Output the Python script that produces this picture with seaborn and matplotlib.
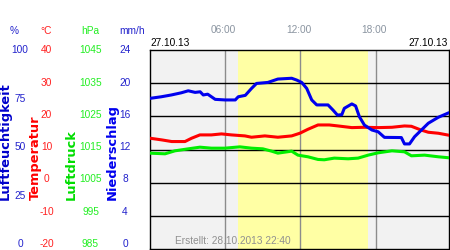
import numpy as np
import pandas as pd
import matplotlib
matplotlib.use("Agg")
import matplotlib.pyplot as plt
import seaborn as sns

# ---------------- data ----------------
hum_hours = [0.0, 0.9, 1.7, 2.5, 3.05, 3.3, 3.6, 4.0, 4.25, 4.6, 5.2, 6.0, 6.8, 7.04, 7.6, 8.1, 8.5,
             9.4, 10.2, 11.3, 11.7, 12.1, 12.5, 12.9, 13.3, 14.2, 14.6, 14.95, 15.3, 15.5, 16.1,
             16.4, 16.7, 17.1, 17.7, 18.2, 18.7, 20.05, 20.15, 20.3, 20.7, 21.1, 21.65, 22.2, 23.0, 23.85]
hum_values = [75.7, 76.5, 77.4, 78.5, 79.5, np.nan, 78.7, 79.0, 77.4, 77.8, 75.2, 74.9, 74.9, 76.5,
              77.2, 80.7, 83.2, 83.7, 85.4, 85.8, 84.9, 83.7, 80.7, 74.9, 72.4, 72.4, 69.8, 67.3,
              67.5, 70.7, 72.9, 71.9, 66.5, 62.3, 59.8, 58.9, 56.1, 56.0, np.nan, 52.8, 52.8, 56.4,
              59.8, 63.2, 66.2, 68.5]

temp_hours = [0.0, 0.93, 1.73, 2.79, 3.32, 3.98, 4.9, 5.7, 6.5, 7.57, 8.1, 9.16, 10.2, 11.3, 11.95,
              12.6, 13.4, 14.3, 15.0, 16.1, 17.1, 18.2, 19.3, 20.3, 20.85, 21.6, 22.2, 23.0, 23.85]
temp_values = [13.4, 12.9, 12.4, 12.4, 13.4, 14.4, 14.4, 14.7, 14.4, 14.1, 13.7, 14.1, 13.7, 14.1,
               14.9, 16.1, 17.4, 17.4, 17.1, 16.6, 16.7, 16.6, 16.7, 17.1, 17.0, 15.9, 15.2, 14.9, 14.3]

pres_hours = [0.0, 1.2, 1.99, 3.05, 3.98, 4.9, 5.97, 7.17, 8.1, 9.0, 9.7, 10.2, 11.3, 11.8, 12.6,
              13.4, 13.9, 14.7, 15.8, 16.6, 17.4, 18.2, 19.3, 20.3, 20.85, 21.9, 23.0, 23.85]
pres_values = [1013.9, 1013.7, 1014.6, 1015.2, 1015.7, 1015.4, 1015.4, 1015.8, 1015.4, 1015.2,
               1014.5, 1013.9, 1014.5, 1013.3, 1012.8, 1012.0, 1011.9, 1012.4, 1012.2, 1012.4,
               1013.3, 1014.0, 1014.6, 1014.3, 1013.1, 1013.3, 1012.8, 1012.5]

hum_ticks = ["100", "75", "50", "25", "0"]
temp_ticks = ["40", "30", "20", "10", "0", "-10", "-20"]
pres_ticks = ["1045", "1035", "1025", "1015", "1005", "995", "985"]
prec_ticks = ["24", "20", "16", "12", "8", "4", "0"]
time_ticks = ["06:00", "12:00", "18:00"]
time_hours = [6, 12, 18]
daylight = (7.04, 17.35)
date_label = "27.10.13"
created = "Erstellt: 28.10.2013 22:40"

# ---------------- figure ----------------
sns.set_style("white")
plt.rcParams['font.family'] = ['Liberation Sans', 'DejaVu Sans']

W, H = 450, 250
XMAX = 23.85
fig = plt.figure(figsize=(W / 100, H / 100), dpi=100)
L, R, T, B = 150, 449, 50, 249
ax = fig.add_axes([L / W, 1 - B / H, (R - L) / W, (B - T) / H])
ax.set_facecolor("#f2f2f2")
ax.set_xlim(0, XMAX)
ax.set_ylim(0, 100)
ax.axvspan(*daylight, color="#ffffa4", lw=0, zorder=0)
for hh in time_hours:
    ax.axvline(hh, color="#8c8c8c", lw=1.0, zorder=1)
for v in np.linspace(0, 100, 7)[1:-1]:
    ax.axhline(v, color="black", lw=1.0, zorder=1)
for s in ax.spines.values():
    s.set_color("black")
    s.set_linewidth(1.0)
ax.set_xticks([]); ax.set_yticks([])


def twin(lo, hi):
    a = ax.twinx()
    a.set_ylim(lo, hi)
    a.set_xlim(0, XMAX)
    a.patch.set_visible(False)
    for s in a.spines.values():
        s.set_visible(False)
    return a


ax_p = twin(985, 1045)
ax_t = twin(-20, 40)
ax_h = twin(0, 100)

lw = 2.2
sns.lineplot(x=pres_hours, y=pres_values, ax=ax_p, color="#00ee00", lw=lw)
sns.lineplot(x=temp_hours, y=temp_values, ax=ax_t, color="#ff0000", lw=lw)
sns.lineplot(x=hum_hours, y=hum_values, ax=ax_h, color="#0000ee", lw=lw)
for a in (ax_t, ax_p, ax_h):
    a.set_xlabel(""); a.set_ylabel("")
    a.set_yticks([]); a.set_xticks([])
    a.set_xlim(0, XMAX)

# ---------------- text ----------------
def ft(x, y, s, **kw):
    fig.text(x / W, 1 - y / H, s, **kw)

fs = 7.3
ft(14, 30.5, "%", color="#2222cc", ha="center", va="center", fontsize=fs)
ft(46.5, 30.5, "°C", color="#ff2020", ha="center", va="center", fontsize=fs)
ft(90.5, 30.5, "hPa", color="#22ee22", ha="center", va="center", fontsize=fs)
ft(132.5, 30.5, "mm/h", color="#2222cc", ha="center", va="center", fontsize=fs)

step = 32.3
for i, s in enumerate(temp_ticks):
    ft(46.5, 50.3 + i * step, s, color="#ff2020", ha="center", va="center", fontsize=fs)
for i, s in enumerate(pres_ticks):
    ft(90.5, 50.3 + i * step, s, color="#22ee22", ha="center", va="center", fontsize=fs)
for i, s in enumerate(prec_ticks):
    ft(125, 50.3 + i * step, s, color="#2222cc", ha="center", va="center", fontsize=fs)
for i, s in enumerate(hum_ticks):
    ft(20, 50.3 + i * step * 1.5, s, color="#2222cc", ha="center", va="center", fontsize=fs)

rfs = 9.4
ft(5.5, 200, "Luftfeuchtigkeit", color="#0000cc", rotation=90, ha="center", va="bottom",
   fontsize=rfs, fontweight="bold", family="DejaVu Sans")
ft(35, 200, "Temperatur", color="#ff0000", rotation=90, ha="center", va="bottom",
   fontsize=rfs, fontweight="bold", family="DejaVu Sans")
ft(71, 200, "Luftdruck", color="#00dd00", rotation=90, ha="center", va="bottom",
   fontsize=rfs, fontweight="bold", family="DejaVu Sans")
ft(112.5, 200, "Niederschlag", color="#0000ee", rotation=90, ha="center", va="bottom",
   fontsize=rfs, fontweight="bold", family="DejaVu Sans")

for hh, s in zip(time_hours, time_ticks):
    ft(L + hh * (R - L) / XMAX - 2, 30, s, color="#8a94a0", ha="center", va="center", fontsize=fs)
ft(150, 43.5, date_label, color="black", ha="left", va="center", fontsize=fs)
ft(447.5, 43.5, date_label, color="black", ha="right", va="center", fontsize=fs)
ft(175, 241, created, color="#909090", ha="left", va="center", fontsize=fs, zorder=10)

fig.savefig("out.png", dpi=100)
